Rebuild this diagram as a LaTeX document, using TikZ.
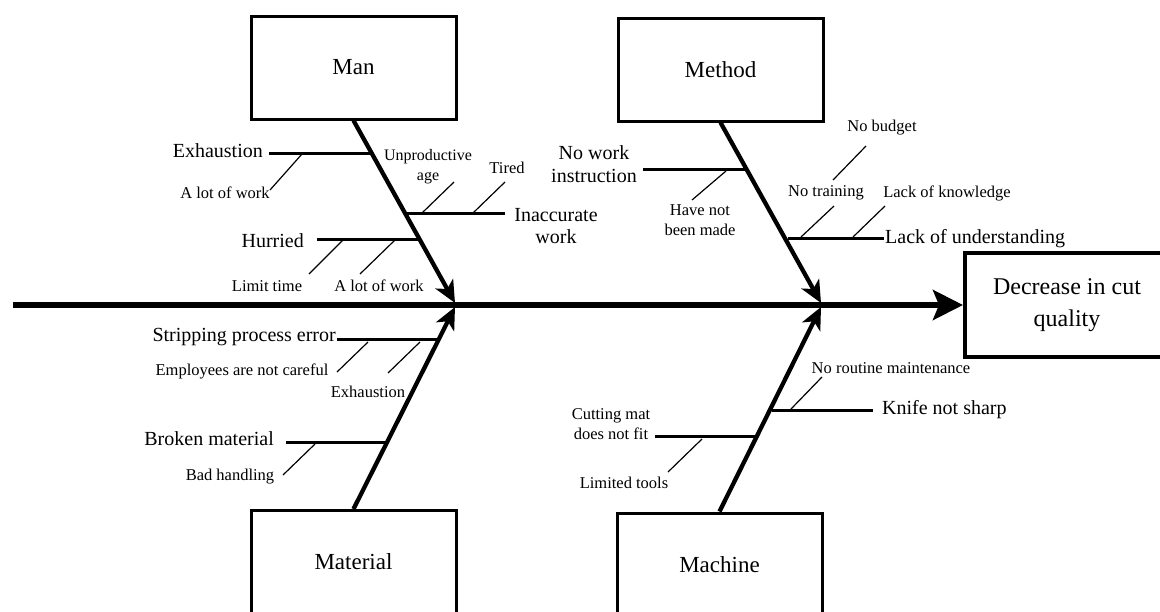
\documentclass[tikz,border=0pt]{standalone}
\usepackage{fontspec}
\setmainfont{Liberation Serif}
\usetikzlibrary{arrows.meta}
\begin{document}
\begin{tikzpicture}[x=1pt,y=-1pt,
  box/.style={draw, line width=3pt, minimum width=205pt, minimum height=103pt, inner sep=0pt, font=\fontsize{23}{26}\selectfont},
  big/.style={font=\fontsize{20}{22.5}\selectfont, align=center, inner sep=1pt},
  sml/.style={font=\fontsize{16.5}{20}\selectfont, align=center, inner sep=1pt},
  spine/.style={line width=4.3pt, -{Stealth[length=22pt,width=20pt,inset=6pt]}},
  mainline/.style={line width=5.5pt, -{Stealth[length=30pt,width=30pt,inset=6pt]}},
  branch/.style={line width=3pt},
  twig/.style={line width=1.2pt}]
\path[use as bounding box] (0,0) rectangle (1160,611);

% category boxes
\node[box] (man) at (353.5,67.5) {Man};
\node[box] (method) at (720.5,69.5) {Method};
\node[box] (material) at (353.5,562) {Material};
\node[box] (machine) at (719.5,564.5) {Machine};
\node[box, line width=4pt, minimum width=204pt, minimum height=104pt, align=center,
      font=\fontsize{24}{32}\selectfont] (effect) at (1067,305) {Decrease in cut\\quality};

% main line
\coordinate (start) at (13,305);
\draw[mainline] (start) -- (effect.west);

% spines
\coordinate (manTip) at (455,303);
\coordinate (methodTip) at (821,303);
\coordinate (materialTip) at (455,307);
\coordinate (machineTip) at (821,307);
\draw[spine] (man.south) -- (manTip);
\draw[spine] (method.south) -- (methodTip);
\draw[spine] (material.north) -- (materialTip);
\draw[spine] (machine.north) -- (machineTip);

% ---------- Man ----------
\node[big, anchor=east] (exh) at (264,151) {Exhaustion};
\coordinate (exhA) at (269,153); \coordinate (exhB) at (373,153);
\draw[branch] (exhA) -- (exhB);
\node[sml] (alot1) at (225,193) {A lot of work};
\coordinate (alot1A) at (270,190); \coordinate (alot1B) at (302,154);
\draw[twig] (alot1A) -- (alot1B);

\node[big] (inacc) at (556,226) {Inaccurate\\work};
\coordinate (inaccA) at (406,213); \coordinate (inaccB) at (505,213);
\draw[branch] (inaccA) -- (inaccB);
\node[sml, font=\fontsize{16}{20}\selectfont] (unprod) at (428,167) {Unproductive\\age};
\coordinate (unprodA) at (422,213); \coordinate (unprodB) at (454,182);
\draw[twig] (unprodA) -- (unprodB);
\node[sml] (tired) at (507,168) {Tired};
\coordinate (tiredA) at (473,213); \coordinate (tiredB) at (505,182);
\draw[twig] (tiredA) -- (tiredB);

\node[big, anchor=east] (hurried) at (305,241) {Hurried};
\coordinate (hurA) at (317,239); \coordinate (hurB) at (419,239);
\draw[branch] (hurA) -- (hurB);
\node[sml] (limit) at (267,286) {Limit time};
\coordinate (limA) at (309,274); \coordinate (limB) at (343,240);
\draw[twig] (limA) -- (limB);
\node[sml] (alot2) at (379,286) {A lot of work};
\coordinate (alot2A) at (360,274); \coordinate (alot2B) at (395,240);
\draw[twig] (alot2A) -- (alot2B);

% ---------- Method ----------
\node[big] (nowork) at (594,164) {No work\\instruction};
\coordinate (nwA) at (643,169); \coordinate (nwB) at (748,169);
\draw[branch] (nwA) -- (nwB);
\node[sml] (notmade) at (700,220) {Have not\\been made};
\coordinate (nmA) at (692,200); \coordinate (nmB) at (726,171);
\draw[twig] (nmA) -- (nmB);

\node[big, anchor=west] (lackund) at (884,239) {Lack of understanding};
\coordinate (luA) at (788,238); \coordinate (luB) at (884,238);
\draw[branch] (luA) -- (luB);
\node[sml] (notrain) at (826,193) {No training};
\coordinate (ntA) at (801,237); \coordinate (ntB) at (834,206);
\draw[twig] (ntA) -- (ntB);
\node[sml] (lackknow) at (947,193) {Lack of knowledge};
\coordinate (lkA) at (853,237); \coordinate (lkB) at (885,206);
\draw[twig] (lkA) -- (lkB);
\node[sml] (nobudget) at (882,128) {No budget};
\coordinate (nbA) at (833,180); \coordinate (nbB) at (866,146);
\draw[twig] (nbA) -- (nbB);

% ---------- Material ----------
\node[big, anchor=east] (strip) at (337,337) {Stripping process error};
\coordinate (stA) at (337,339); \coordinate (stB) at (438,339);
\draw[branch] (stA) -- (stB);
\node[sml] (employees) at (242,371) {Employees are not careful};
\coordinate (emA) at (337,372); \coordinate (emB) at (368,342);
\draw[twig] (emA) -- (emB);
\node[sml] (exh2) at (368,392) {Exhaustion};
\coordinate (ex2A) at (388,373); \coordinate (ex2B) at (420,342);
\draw[twig] (ex2A) -- (ex2B);

\node[big, anchor=east] (broken) at (275,439) {Broken material};
\coordinate (brA) at (286,442); \coordinate (brB) at (388,442);
\draw[branch] (brA) -- (brB);
\node[sml] (bad) at (230,477) {Bad handling};
\coordinate (bhA) at (283,475); \coordinate (bhB) at (315,444);
\draw[twig] (bhA) -- (bhB);

% ---------- Machine ----------
\node[sml] (routine) at (891,368) {No routine maintenance};
\coordinate (nrA) at (791,409); \coordinate (nrB) at (822,377);
\draw[twig] (nrA) -- (nrB);
\node[big, anchor=west] (knife) at (881,410) {Knife not sharp};
\coordinate (knA) at (772,410); \coordinate (knB) at (873,410);
\draw[branch] (knA) -- (knB);

\node[sml] (mat) at (611,424) {Cutting mat\\does not fit};
\coordinate (cmA) at (655,436); \coordinate (cmB) at (757,436);
\draw[branch] (cmA) -- (cmB);
\node[sml] (limtools) at (624,483) {Limited tools};
\coordinate (ltA) at (668,472); \coordinate (ltB) at (702,439);
\draw[twig] (ltA) -- (ltB);
\end{tikzpicture}
\end{document}
